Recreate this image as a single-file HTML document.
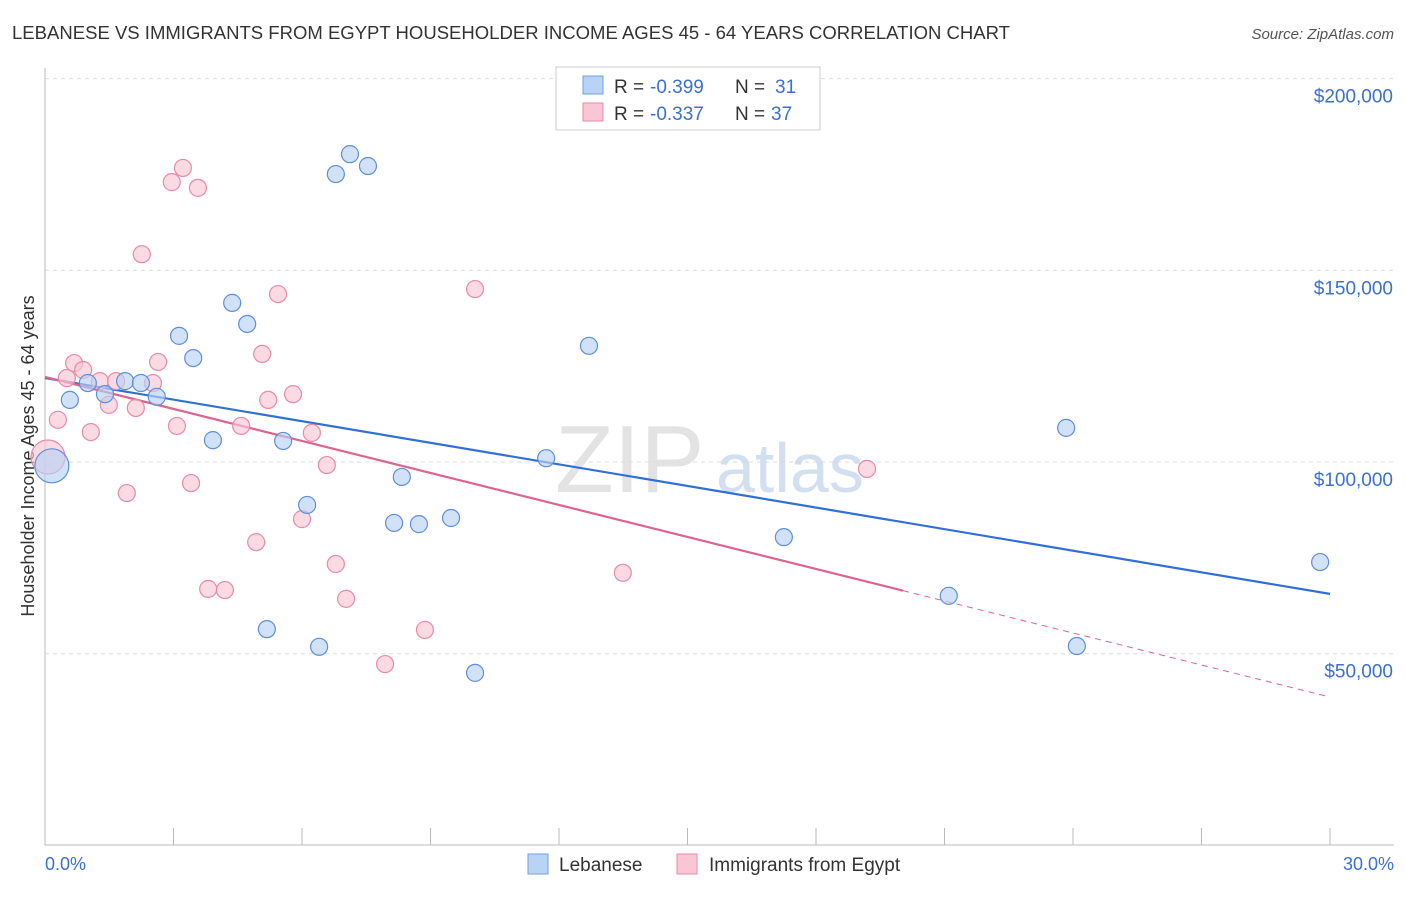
<!DOCTYPE html>
<html><head><meta charset="utf-8">
<style>
body{margin:0;background:#fff;font-family:"Liberation Sans",sans-serif;}
svg text{font-family:"Liberation Sans",sans-serif;}
</style></head>
<body>
<svg id="chart" width="1406" height="892" xmlns="http://www.w3.org/2000/svg">
<text x="12" y="39" font-size="18" fill="#333" textLength="998" lengthAdjust="spacingAndGlyphs">LEBANESE VS IMMIGRANTS FROM EGYPT HOUSEHOLDER INCOME AGES 45 - 64 YEARS CORRELATION CHART</text>
<text x="1394" y="39" font-size="15" fill="#555" font-style="italic" text-anchor="end">Source: ZipAtlas.com</text>
<g id="grid"></g>
<g><text x="555" y="492" font-size="96" fill="#ddd" font-family="Liberation Serif" opacity="0.8">ZIP</text><text x="716" y="492" font-size="70" fill="#c8d8ee" opacity="0.8">atlas</text></g>
<line x1="45" y1="68" x2="45" y2="845" stroke="#bbb"/>
<line x1="45" y1="845" x2="1394" y2="845" stroke="#bbb"/>
<g id="xt"></g>
<text x="45" y="870" font-size="18" fill="#3b6fd4">0.0%</text>
<text x="1394" y="870" font-size="18" fill="#3b6fd4" text-anchor="end">30.0%</text>
<text transform="translate(34,456) rotate(-90)" font-size="18" fill="#333" text-anchor="middle">Householder Income Ages 45 - 64 years</text>
<g id="trend"></g>
<g id="pts"></g>
<g>
<rect x="556" y="67" width="264" height="63" fill="#fff" stroke="#ccc"/>
<rect x="583" y="76" width="20" height="18" fill="#b9d3f5" stroke="#6f9fe0"/>
<rect x="583" y="103" width="20" height="18" fill="#f9c6d6" stroke="#e88aa8"/>
<text x="614" y="93" font-size="19" fill="#333">R =</text>
<text x="650" y="93" font-size="19" fill="#3b6fd4">-0.399</text>
<text x="735" y="93" font-size="19" fill="#333">N =</text>
<text x="775" y="93" font-size="19" fill="#3b6fd4">31</text>
<text x="614" y="120" font-size="19" fill="#333">R =</text>
<text x="650" y="120" font-size="19" fill="#3b6fd4">-0.337</text>
<text x="735" y="120" font-size="19" fill="#333">N =</text>
<text x="771" y="120" font-size="19" fill="#3b6fd4">37</text>
</g>
<g>
<rect x="528" y="854" width="20" height="20" fill="#b9d3f5" stroke="#6f9fe0"/>
<text x="559" y="871" font-size="19" fill="#333">Lebanese</text>
<rect x="677" y="854" width="20" height="20" fill="#f9c6d6" stroke="#e88aa8"/>
<text x="709" y="871" font-size="19" fill="#333">Immigrants from Egypt</text>
</g>
</svg>
<script>
const yTicks=[50000,100000,150000,200000];
const yTickLabels=["$50,000","$100,000","$150,000","$200,000"];
const blueX=[0.58,1.00,1.40,1.87,2.24,2.61,3.13,3.46,3.92,4.37,4.72,5.18,5.56,6.12,6.40,6.79,7.12,7.54,8.15,8.33,8.73,9.48,10.04,11.70,12.70,17.25,21.10,23.84,24.09,29.77,0.16];
const blueY=[116.2,120.6,117.7,121.1,120.6,117.0,132.9,127.1,105.7,141.5,136.0,56.4,105.5,88.8,51.8,175.1,180.3,177.2,84.1,96.1,83.8,85.4,45.0,101.0,130.3,80.4,65.1,108.9,52.0,73.9,99.0];
const pinkX=[0.07,0.30,0.51,0.68,0.89,1.07,1.28,1.49,1.66,1.91,2.12,2.26,2.52,2.64,2.96,3.08,3.22,3.41,3.57,3.81,4.20,4.58,4.93,5.07,5.21,5.44,5.79,6.00,6.23,6.58,6.79,7.03,7.94,8.87,10.04,13.49,19.19];
const pinkY=[101.3,111.0,121.9,125.8,124.0,107.8,121.1,114.9,121.1,91.9,114.1,154.2,120.6,126.1,173.0,109.4,176.7,94.5,171.5,66.9,66.6,109.4,79.1,128.2,116.2,143.8,117.7,85.1,107.6,99.2,73.4,64.3,47.3,56.2,145.1,71.1,98.2];
const blueTrend=[121.9,65.6];
const pinkTrend=[122.2,38.7];
const pinkSolidEnd=20.03;

const NS="http://www.w3.org/2000/svg";
const xs=p=>45+p/30*1285;
const ys=v=>462-(v-100000)*191.7/50000;
function mk(t,a,parent){const e=document.createElementNS(NS,t);for(const k in a)e.setAttribute(k,a[k]);document.getElementById(parent).appendChild(e);return e;}
yTicks.forEach((v,i)=>{
 const l=mk('line',{x1:45,x2:1394,y1:ys(v),y2:ys(v),stroke:'#ddd','stroke-dasharray':'4,4'},'grid');
 
 
 const t=mk('text',{x:1393,y:ys(v)+24,'font-size':19,fill:'#3b6fd4','text-anchor':'end'},'grid');
 t.textContent=yTickLabels[i];
 
 
});
for(let i=0;i<=10;i++){
 const l=mk('line',{x1:xs(i*3),x2:xs(i*3),y1:828,y2:845,stroke:'#bbb'},'xt');
 
 
}
function line(x1,v1,x2,v2,col,dash,name){
 const l=mk('line',{x1:xs(x1),y1:ys(v1*1000),x2:xs(x2),y2:ys(v2*1000),stroke:col,'stroke-width':dash?1:2.2},'trend');
 if(dash)l.setAttribute('stroke-dasharray','6,5');
 
 
}
const pAt=x=>pinkTrend[0]+(pinkTrend[1]-pinkTrend[0])*x/30;
line(0,blueTrend[0],30,blueTrend[1],'#2f6fd6',false,'lebanese-trend-line');
line(0,pinkTrend[0],pinkSolidEnd,pAt(pinkSolidEnd),'#e0628e',false,'egypt-trend-line');
line(pinkSolidEnd,pAt(pinkSolidEnd),30,pinkTrend[1],'#e0628e',true,'egypt-trend-extension');
function dots(X,Y,fill,stroke,name){
 X.forEach((x,i)=>{
  const big=(x<0.2);
  const c=mk('circle',{cx:xs(x),cy:ys(Y[i]*1000),r:big?17:8.5,fill:fill,'fill-opacity':0.65,stroke:stroke,'stroke-width':1.2},'pts');
  
  
 });
}
dots(pinkX,pinkY,'#f9c6d6','#e88aa8','egypt-point');
dots(blueX,blueY,'#b9d3f5','#5f8fd8','lebanese-point');
</script>
</body></html>
